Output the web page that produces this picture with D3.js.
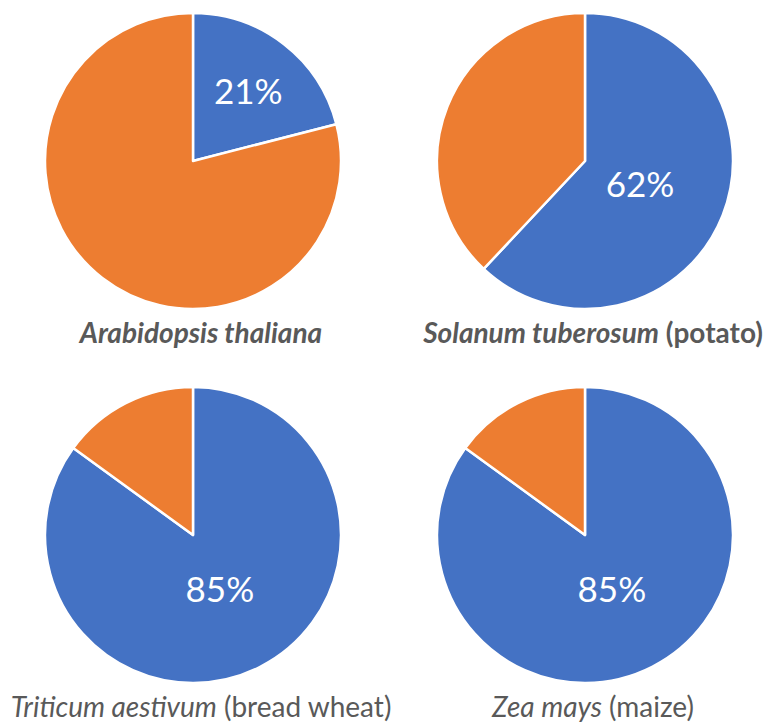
<!DOCTYPE html>
<meta charset="utf-8">
<style>
  body { margin: 0; background: #fff; }
  .pct { font-family: Lato, "Open Sans", sans-serif; font-size: 35px; fill: #fff; }
  .name { font-family: Lato, "Open Sans", sans-serif; font-size: 28px; fill: #595959; }
</style>
<body>
  <div id="chart"></div>
  <script src="https://d3js.org/d3.v7.min.js"></script>
  <script>
    // data
    var species = ["Arabidopsis thaliana", "Solanum tuberosum", "Triticum aestivum", "Zea mays"];
    var commonNames = ["", "(potato)", "(bread wheat)", "(maize)"];
    var bluePct = [21, 62, 85, 85];
    var boldLabel = [true, true, false, false];

    var colors = ["#4472C4", "#ED7D31"];

    var width = 767, height = 724;
    var radius = 148;
    // centres of the 2x2 grid
    var colX = d3.scalePoint().domain([0, 1]).range([193, 585]);
    var rowY = d3.scalePoint().domain([0, 1]).range([161, 535]);

    var svg = d3.select("#chart")
      .append("svg")
      .attr("width", width)
      .attr("height", height);

    var pie = d3.pie().sort(null).value(function (d) { return d; });
    var arc = d3.arc().innerRadius(0).outerRadius(radius);

    species.forEach(function (name, i) {
      var cx = colX(i % 2), cy = rowY(Math.floor(i / 2));
      var g = svg.append("g").attr("transform", "translate(" + cx + "," + cy + ")");

      var slices = pie([bluePct[i], 100 - bluePct[i]]);

      g.selectAll("path")
        .data(slices)
        .enter().append("path")
        .attr("d", arc)
        .attr("fill", function (d, j) { return colors[j]; })
        .attr("stroke", "#fff")
        .attr("stroke-width", 2.5)
        .attr("stroke-linejoin", "round");

      // label only the blue slice
      var s = slices[0];
      var k = bluePct[i] < 30 ? 1.22 : 0.8;
      var labelArc = d3.arc().innerRadius(0).outerRadius(radius * k);
      var c = labelArc.centroid(s);
      g.append("text")
        .attr("class", "pct")
        .attr("x", c[0])
        .attr("y", c[1])
        .attr("text-anchor", "middle")
        .attr("dominant-baseline", "central")
        .text(bluePct[i] + "%");

      // caption
      var t = svg.append("text")
        .attr("class", "name")
        .attr("x", cx + 8)
        .attr("y", cy + radius + 34)
        .attr("text-anchor", "middle")
        .style("font-weight", boldLabel[i] ? "bold" : "normal");
      t.append("tspan").style("font-style", "italic").text(name);
      if (commonNames[i]) t.append("tspan").text(" " + commonNames[i]);
    });
  </script>
</body>
